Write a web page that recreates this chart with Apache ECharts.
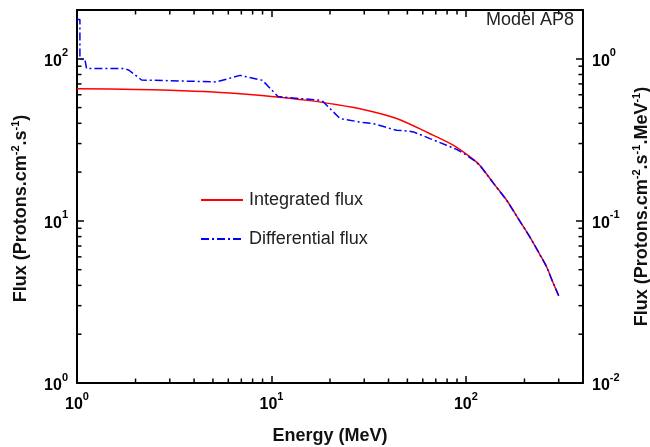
<!DOCTYPE html>
<html><head><meta charset="utf-8">
<script src="https://cdn.jsdelivr.net/npm/echarts@6/dist/echarts.min.js"></script>
<style>html,body{margin:0;padding:0;background:#fff}#c{width:650px;height:447px}</style>
</head><body><div id="c"></div>
<script>
// Integrated flux (left axis, Protons.cm^-2.s^-1)
const integratedEnergy = [1, 2, 3, 5, 8, 10, 15, 20, 30, 44, 65, 86, 105, 118, 140, 162, 190, 213, 240, 260, 280, 300];
const integratedFlux   = [65.4, 64.7, 63.9, 62.3, 60.0, 58.6, 55.6, 52.9, 48.5, 42.8, 34.6, 29.3, 24.8, 22.0, 16.8, 13.4, 9.9, 7.97, 6.2, 5.21, 4.18, 3.45];
// Differential flux (right axis, Protons.cm^-2.s^-1.MeV^-1)
const differentialEnergy = [1, 1.035, 1.035, 1.10, 1.12, 1.77, 1.85, 2.15, 5.2, 6.9, 9.0, 10.8, 17.8, 18.4, 22.5, 29.6, 33.4, 44, 49.6, 53.7, 65.3, 79.5, 89.6, 100.9, 110, 118, 140, 162, 190, 213, 240, 260, 280, 300];
const differentialFlux   = [1.75, 1.75, 1.00, 0.98, 0.87, 0.87, 0.85, 0.74, 0.72, 0.79, 0.736, 0.585, 0.554, 0.545, 0.428, 0.404, 0.398, 0.362, 0.359, 0.354, 0.322, 0.293, 0.276, 0.254, 0.236, 0.220, 0.168, 0.134, 0.099, 0.0797, 0.062, 0.0521, 0.0418, 0.0345];
// Axis ranges and tick positions
const xRange = [1, 400];
const yLeftRange = [1, 200];
const yRightRange = [0.01, 2];
const xMinorTicks = [2, 3, 4, 5, 6, 7, 8, 9, 20, 30, 40, 50, 60, 70, 80, 90, 200, 300];
const yMinorTicks = [2, 3, 4, 5, 6, 7, 8, 9, 20, 30, 40, 50, 60, 70, 80, 90];

const chart = echarts.init(document.getElementById('c'), null, {renderer: 'canvas'});
const FONT = 'Liberation Sans, Arial, sans-serif';
const tickRich = {
  b: {fontSize: 16, fontWeight: 'bold', fontFamily: FONT, color: '#000', verticalAlign: 'bottom', lineHeight: 22},
  s: {fontSize: 11, fontWeight: 'bold', fontFamily: FONT, color: '#000', verticalAlign: 'top', lineHeight: 22}
};
function powFmt(v) {
  const l = Math.log10(v);
  const r = Math.round(l);
  if (Math.abs(l - r) > 1e-6) return '';
  return '{b|10}{s|' + r + '}';
}
const nameRich = {
  s: {fontSize: 11, fontWeight: 'bold', fontFamily: FONT, color: '#000', verticalAlign: 'top', lineHeight: 22}
};
const axisLine = {show: true, lineStyle: {color: '#000', width: 2}};
const axisTick = {show: true, inside: true, length: 7, lineStyle: {color: '#000', width: 1.5}};
const tickStyle = {stroke: '#000', lineWidth: 1.5};
const MINOR = 4.5;

function xMinorRender(params, api) {
  const cs = params.coordSys;
  const p = api.coord([api.value(0), api.value(1)]);
  const b = cs.y + cs.height, t = cs.y;
  return {type: 'group', children: [
    {type: 'line', shape: {x1: p[0], y1: b, x2: p[0], y2: b - MINOR}, style: tickStyle},
    {type: 'line', shape: {x1: p[0], y1: t, x2: p[0], y2: t + MINOR}, style: tickStyle}
  ]};
}
function yMinorRender(params, api) {
  const cs = params.coordSys;
  const p = api.coord([api.value(0), api.value(1)]);
  const l = cs.x, r = cs.x + cs.width;
  return {type: 'group', children: [
    {type: 'line', shape: {x1: l, y1: p[1], x2: l + MINOR, y2: p[1]}, style: tickStyle},
    {type: 'line', shape: {x1: r, y1: p[1], x2: r - MINOR, y2: p[1]}, style: tickStyle}
  ]};
}

chart.setOption({
  animation: false,
  backgroundColor: '#fff',
  grid: {left: 77, right: 67, top: 10, bottom: 64, containLabel: false, outerBoundsMode: 'none'},
  title: {text: 'Model AP8', right: 76, top: 11, padding: 0,
    textStyle: {fontSize: 18, fontWeight: 'normal', fontFamily: FONT, color: '#222'}},
  legend: {
    orient: 'vertical', left: 195, top: 186, itemWidth: 42, itemHeight: 14, itemGap: 21,
    data: ['Integrated flux', 'Differential flux'],
    itemStyle: {opacity: 0},
    textStyle: {fontSize: 18, fontFamily: FONT, color: '#222', lineHeight: 18, padding: [0, 0, 0, 1]}
  },
  xAxis: [
    {type: 'log', logBase: 10, min: xRange[0], max: xRange[1], position: 'bottom',
     name: 'Energy (MeV)', nameLocation: 'middle', nameGap: 44,
     nameTextStyle: {fontSize: 18, fontWeight: 'bold', fontFamily: FONT, color: '#111'},
     axisLine, axisTick, splitLine: {show: false}, minorTick: {show: false},
     axisLabel: {formatter: powFmt, rich: tickRich, margin: 8, showMaxLabel: false}},
    {type: 'log', logBase: 10, min: xRange[0], max: xRange[1], position: 'top',
     axisLine, axisTick, splitLine: {show: false}, axisLabel: {show: false}}
  ],
  yAxis: [
    {type: 'log', logBase: 10, min: yLeftRange[0], max: yLeftRange[1], position: 'left',
     name: 'Flux (Protons.cm{s|-2}.s{s|-1})', nameLocation: 'middle', nameGap: 45,
     nameTextStyle: {fontSize: 18, fontWeight: 'bold', fontFamily: FONT, color: '#111', rich: nameRich, padding: [0, 24, 0, 0]},
     axisLine, axisTick, splitLine: {show: false},
     axisLabel: {formatter: powFmt, rich: tickRich, margin: 9, showMaxLabel: false}},
    {type: 'log', logBase: 10, min: yRightRange[0], max: yRightRange[1], position: 'right',
     name: 'Flux (Protons.cm{s|-2}.s{s|-1}.MeV{s|-1})', nameLocation: 'middle', nameGap: 48,
     nameTextStyle: {fontSize: 18, fontWeight: 'bold', fontFamily: FONT, color: '#111', rich: nameRich, padding: [0, 20, 0, 0]},
     axisLine, axisTick, splitLine: {show: false},
     axisLabel: {formatter: powFmt, rich: tickRich, margin: 9, showMaxLabel: false}}
  ],
  series: [
    {name: 'Integrated flux', type: 'line', xAxisIndex: 0, yAxisIndex: 0, showSymbol: false, symbol: 'none',
     smooth: 0.3,
     lineStyle: {color: '#ff0000', width: 1.5}, itemStyle: {color: '#ff0000'}, z: 3,
     data: integratedEnergy.map((e, i) => [e, integratedFlux[i]])},
    {name: 'Differential flux', type: 'line', xAxisIndex: 0, yAxisIndex: 1, showSymbol: false, symbol: 'none',
     lineStyle: {color: '#0000ff', width: 1.5, type: [8, 3, 2, 3]}, itemStyle: {color: '#0000ff'}, z: 4,
     data: differentialEnergy.map((e, i) => [e, differentialFlux[i]])},
    {type: 'custom', xAxisIndex: 0, yAxisIndex: 0, silent: true, clip: false, z: 5,
     renderItem: xMinorRender, data: xMinorTicks.map(v => [v, 1])},
    {type: 'custom', xAxisIndex: 0, yAxisIndex: 0, silent: true, clip: false, z: 5,
     renderItem: yMinorRender, data: yMinorTicks.map(v => [1, v])}
  ]
});
</script>
</body></html>
